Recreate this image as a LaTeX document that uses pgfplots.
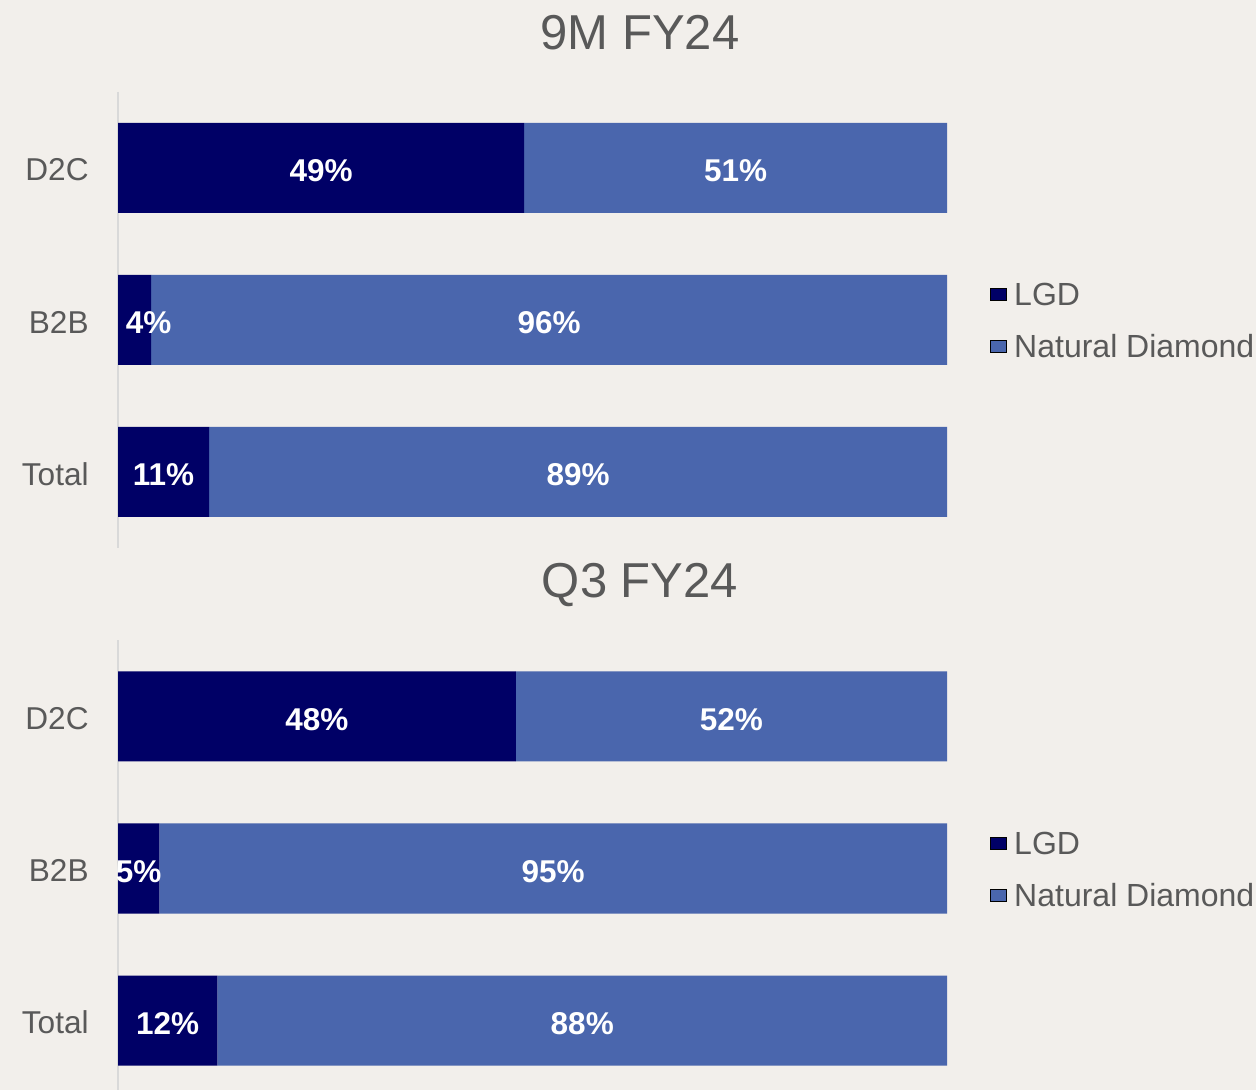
\documentclass[border=0pt]{standalone}
\usepackage{pgfplots}
\usepackage{pgfplotstable}
\pgfplotsset{compat=1.18}
\usepackage{fontspec}
\setmainfont{Liberation Sans}
\definecolor{bg}{HTML}{F2EFEB}
\definecolor{lgd}{HTML}{000066}
\definecolor{nat}{HTML}{4A66AD}
\definecolor{txt}{HTML}{595959}
\definecolor{axl}{HTML}{D9D9D9}

\pgfplotstableread{
cat lgd nat
0 49 51
1 4 96
2 11 89
}\nineM
\pgfplotstableread{
cat lgd nat
0 48 52
1 5 95
2 12 88
}\qthree
\pgfplotstableread{
x y v
24.5 0 49
74.5 0 51
3.7 1 4
52 1 96
5.5 2 11
55.5 2 89
}\nineMlab
\pgfplotstableread{
x y v
24 0 48
74 0 52
2.5 1 5
52.5 1 95
6 2 12
56 2 88
}\qthreelab

\pgfplotsset{
  base/.style={scale only axis, width=414.5pt, height=228pt,
    xmin=0, xmax=100, ymin=-0.5, ymax=2.5, y dir=reverse, anchor=north west},
  barax/.style={base, xbar stacked, bar width=45pt,
    axis lines*=left, x axis line style={draw=none},
    y axis line style={draw=axl, line width=0.75pt, -},
    xtick=\empty, ytick={0,1,2}, yticklabels={D2C,B2B,Total},
    major tick length=0pt,
    yticklabel style={font=\fontsize{15.8}{18}\selectfont, text=txt, inner sep=0pt, xshift=-14.5pt, yshift=-1pt},
    legend image code/.code={\fill[##1, draw=none] (0pt,2pt) rectangle (7.5pt,9.5pt);},
    legend style={at={(1.0519,0.5)}, anchor=west, yshift=-1.5pt, draw=none, fill=none,
      font=\fontsize{16}{19}\selectfont, text=txt, row sep=11pt, inner sep=0pt,
      nodes={inner sep=0pt, text height=12pt, text depth=3pt},
      /tikz/every odd column/.append style={column sep=3.5pt}},
    legend cell align=left},
  labax/.style={base, hide axis, clip=false},
  labplot/.style={only marks, mark=text, text mark={}, nodes near coords={\pgfplotspointmeta\%},
    point meta=explicit symbolic,
    nodes near coords style={anchor=center, yshift=-1.5pt, text=white, font=\fontsize{15.75}{18}\selectfont\bfseries}}
}

\begin{document}
\begin{tikzpicture}
\fill[bg] (0pt,0pt) rectangle (628pt,545pt);
\useasboundingbox (0pt,0pt) rectangle (628pt,545pt);
\node[anchor=base, font=\fontsize{24.5}{29}\selectfont, text=txt] at (320pt,520pt) {9M FY24};
\node[anchor=base, font=\fontsize{24.5}{29}\selectfont, text=txt] at (320pt,246pt) {Q3 FY24};

\begin{axis}[barax, at={(59pt,499pt)}]
\addplot[xbar stacked, fill=lgd, draw=none] table[x=lgd, y=cat] \nineM;
\addplot[xbar stacked, fill=nat, draw=none] table[x=nat, y=cat] \nineM;
\legend{LGD, Natural Diamond}
\end{axis}
\begin{axis}[labax, at={(59pt,499pt)}]
\addplot[labplot] table[x=x, y=y, meta=v] \nineMlab;
\end{axis}

\begin{axis}[barax, at={(59pt,224.75pt)}]
\addplot[xbar stacked, fill=lgd, draw=none] table[x=lgd, y=cat] \qthree;
\addplot[xbar stacked, fill=nat, draw=none] table[x=nat, y=cat] \qthree;
\legend{LGD, Natural Diamond}
\end{axis}
\begin{axis}[labax, at={(59pt,224.75pt)}]
\addplot[labplot] table[x=x, y=y, meta=v] \qthreelab;
\end{axis}
\end{tikzpicture}
\end{document}
